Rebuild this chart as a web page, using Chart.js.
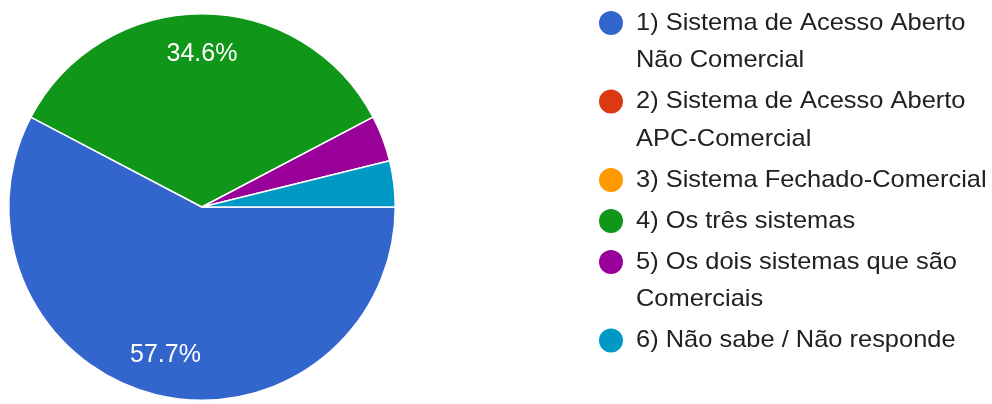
<!DOCTYPE html>
<html>
<head>
<meta charset="utf-8">
<script src="https://cdn.jsdelivr.net/npm/chart.js@4/dist/chart.umd.min.js"></script>
<style>
  html, body { margin: 0; padding: 0; background: #fff; }
  #wrap { width: 992px; height: 404px; }
</style>
</head>
<body>
<div id="wrap"><canvas id="pieChart" width="992" height="404"></canvas></div>
<script>
// ===== DATA =====
const categories = [
  ["1) Sistema de Acesso Aberto", "Não Comercial"],
  ["2) Sistema de Acesso Aberto", "APC-Comercial"],
  ["3) Sistema Fechado-Comercial"],
  ["4) Os três sistemas"],
  ["5) Os dois sistemas que são", "Comerciais"],
  ["6) Não sabe / Não responde"],
];
const responses = [15, 0, 0, 9, 1, 1];
const colors = ["#3366cc", "#dc3912", "#ff9900", "#109618", "#990099", "#0099c6"];

const FONT = "Arial, 'Liberation Sans', sans-serif";

// percent labels inside the big slices
const sliceLabels = {
  id: "sliceLabels",
  afterDatasetsDraw(chart) {
    const ctx = chart.ctx;
    const meta = chart.getDatasetMeta(0);
    const total = responses.reduce((a, b) => a + b, 0);
    ctx.save();
    ctx.font = "25px " + FONT;
    ctx.fillStyle = "#ffffff";
    ctx.textAlign = "center";
    ctx.textBaseline = "middle";
    meta.data.forEach((arc, i) => {
      const share = responses[i] / total;
      if (share < 0.05) return;
      const mid = (arc.startAngle + arc.endAngle) / 2;
      const r = arc.outerRadius * 0.79;
      const x = arc.x + Math.cos(mid) * r;
      const y = arc.y + Math.sin(mid) * r;
      ctx.fillText((share * 100).toFixed(1) + "%", x, y);
    });
    ctx.restore();
  },
};

// legend on the right, Google Forms style
const sideLegend = {
  id: "sideLegend",
  afterDraw(chart) {
    const ctx = chart.ctx;
    const lineHeight = 37.5;
    const gap = 3.5;
    const textX = 636;
    let y = 23;
    ctx.save();
    ctx.font = "24px " + FONT;
    ctx.textBaseline = "middle";
    ctx.textAlign = "left";
    categories.forEach((lines, i) => {
      ctx.fillStyle = colors[i];
      ctx.beginPath();
      ctx.arc(611, y, 12, 0, Math.PI * 2);
      ctx.fill();
      ctx.fillStyle = "#212121";
      lines.forEach((line, j) => {
        ctx.save();
        ctx.translate(textX, y + j * lineHeight);
        ctx.scale(1.06, 1);
        ctx.fillText(line, 0, 0);
        ctx.restore();
      });
      y += lines.length * lineHeight + gap;
    });
    ctx.restore();
  },
};

new Chart(document.getElementById("pieChart"), {
  type: "pie",
  data: {
    labels: categories.map((c) => c.join(" ")),
    datasets: [
      {
        data: responses,
        backgroundColor: colors,
        borderColor: "#ffffff",
        borderWidth: 1.5,
      },
    ],
  },
  options: {
    responsive: false,
    animation: false,
    rotation: 90,
    layout: {
      padding: { left: 8, top: 13, right: 596, bottom: 3 },
    },
    plugins: {
      legend: { display: false },
      tooltip: { enabled: false },
    },
  },
  plugins: [sliceLabels, sideLegend],
});
</script>
</body>
</html>
